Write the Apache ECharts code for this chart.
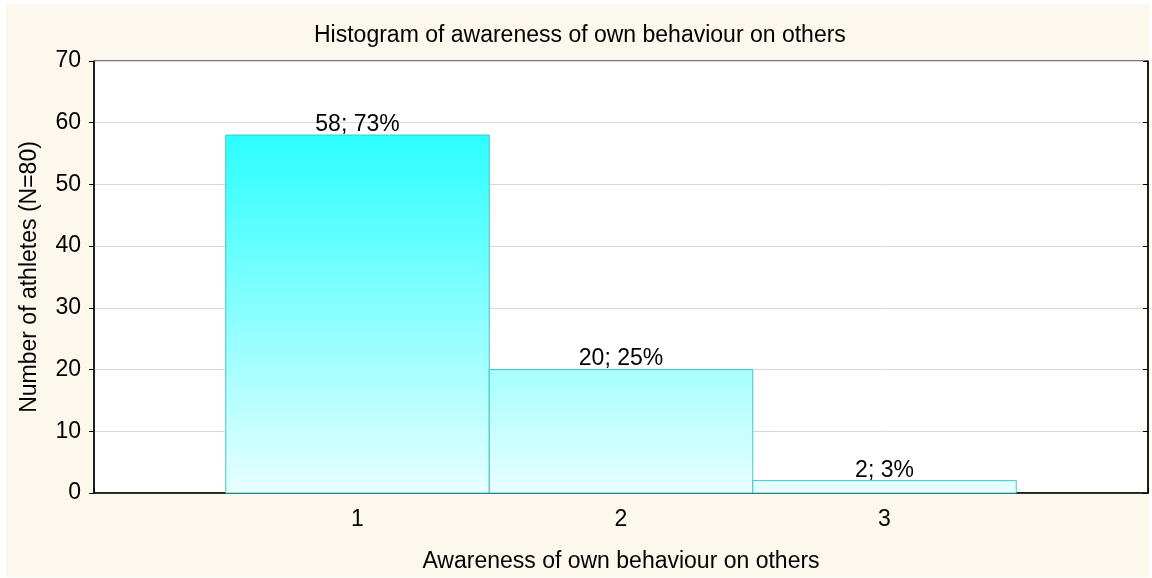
<!DOCTYPE html>
<html>
<head>
<meta charset="utf-8">
<script src="https://cdn.jsdelivr.net/npm/echarts@6/dist/echarts.min.js"></script>
<style>
  html, body { margin: 0; padding: 0; background: #fff; }
  #chart { width: 1152px; height: 578px; }
</style>
</head>
<body>
<div id="chart"></div>
<script>
// histogram data
const categories = [1, 2, 3]
const counts = [58, 20, 2]
const percents = [73, 25, 3]

const font = '"Liberation Sans", Arial, sans-serif'
const chart = echarts.init(document.getElementById('chart'))

const barData = categories.map((c, i) => [c, counts[i], percents[i]])

chart.setOption({
  animation: false,
  textStyle: { fontFamily: font, color: '#000' },
  graphic: [
    {
      type: 'rect',
      z: -10,
      silent: true,
      shape: { x: 6, y: 4, width: 1144, height: 573 },
      style: { fill: '#fdf8ee' }
    }
  ],
  title: {
    text: 'Histogram of awareness of own behaviour on others',
    left: 309,
    top: 19,
    textStyle: { fontFamily: font, fontSize: 23, fontWeight: 'normal', color: '#000' }
  },
  grid: {
    left: 94,
    right: 4,
    top: 61,
    bottom: 84,
    show: true,
    backgroundColor: '#fff',
    borderColor: '#000',
    borderWidth: 1
  },
  xAxis: {
    type: 'value',
    min: 0,
    max: 4,
    interval: 1,
    name: 'Awareness of own behaviour on others',
    nameLocation: 'middle',
    nameGap: 57,
    nameTextStyle: { fontFamily: font, fontSize: 23, color: '#000' },
    axisLine: { lineStyle: { color: '#000', width: 1.5 } },
    axisTick: { inside: true, length: 5, lineStyle: { color: '#000' } },
    axisLabel: {
      fontFamily: font,
      fontSize: 23,
      color: '#000',
      margin: 15,
      formatter: v => (categories.indexOf(v) >= 0 ? String(v) : '')
    },
    splitLine: { show: false }
  },
  yAxis: [
    {
      type: 'value',
      min: 0,
      max: 70,
      interval: 10,
      name: 'Number of athletes (N=80)',
      nameLocation: 'middle',
      nameGap: 53,
      nameTextStyle: { fontFamily: font, fontSize: 23, color: '#000' },
      axisLine: { show: true, lineStyle: { color: '#000', width: 1.5 } },
      axisTick: { show: true, length: 5, lineStyle: { color: '#000' } },
      axisLabel: { fontFamily: font, fontSize: 23, color: '#000', margin: 13 },
      splitLine: { show: true, lineStyle: { color: '#d8d8d8', width: 1 } }
    },
    {
      type: 'value',
      position: 'right',
      min: 0,
      max: 70,
      interval: 10,
      axisLine: { show: true, lineStyle: { color: '#000', width: 1.5 } },
      axisTick: { show: true, inside: true, length: 5, lineStyle: { color: '#000' } },
      axisLabel: { show: false },
      splitLine: { show: false }
    }
  ],
  series: [
    {
      type: 'custom',
      data: barData,
      renderItem: (params, api) => {
        const x = api.value(0)
        const v = api.value(1)
        const p1 = api.coord([x - 0.5, v])
        const p2 = api.coord([x + 0.5, 0])
        const gTop = api.coord([0, 58])[1]
        const gBot = api.coord([0, 0])[1]
        const label = api.coord([x, v])
        return {
          type: 'group',
          children: [
            {
              type: 'rect',
              shape: { x: p1[0], y: p1[1], width: p2[0] - p1[0], height: p2[1] - p1[1] },
              style: {
                fill: new echarts.graphic.LinearGradient(0, gTop, 0, gBot, [
                  { offset: 0, color: '#2bffff' },
                  { offset: 1, color: '#e8ffff' }
                ], true),
                stroke: '#3cc6cc',
                lineWidth: 1
              }
            },
            {
              type: 'text',
              x: label[0],
              y: label[1] + 1,
              style: {
                text: counts[params.dataIndex] + '; ' + percents[params.dataIndex] + '%',
                fontFamily: font,
                fontSize: 23,
                fill: '#000',
                align: 'center',
                verticalAlign: 'bottom'
              }
            }
          ]
        }
      }
    }
  ]
})
</script>
</body>
</html>
